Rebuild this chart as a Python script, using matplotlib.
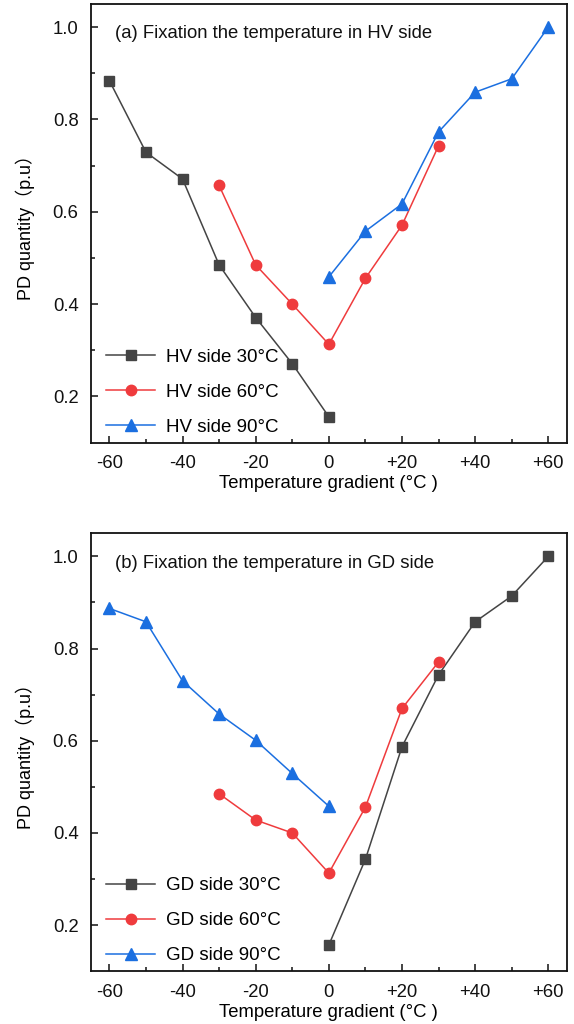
import matplotlib
matplotlib.use('Agg')
import matplotlib.pyplot as plt
from matplotlib.ticker import MultipleLocator, FixedLocator

plt.rcParams['font.family'] = ['Liberation Sans', 'Noto Sans CJK SC', 'DejaVu Sans']

# 数据 (a) 固定 HV 侧温度
x_hv30 = [-60, -50, -40, -30, -20, -10, 0]
y_hv30 = [0.884, 0.729, 0.671, 0.485, 0.371, 0.271, 0.156]
x_hv60 = [-30, -20, -10, 0, 10, 20, 30]
y_hv60 = [0.657, 0.485, 0.400, 0.313, 0.456, 0.571, 0.743]
x_hv90 = [0, 10, 20, 30, 40, 50, 60]
y_hv90 = [0.459, 0.558, 0.617, 0.773, 0.859, 0.888, 1.000]

# 数据 (b) 固定 GD 侧温度
x_gd30 = [0, 10, 20, 30, 40, 50, 60]
y_gd30 = [0.157, 0.343, 0.587, 0.743, 0.858, 0.914, 1.000]
x_gd60 = [-30, -20, -10, 0, 10, 20, 30]
y_gd60 = [0.485, 0.428, 0.400, 0.313, 0.456, 0.670, 0.771]
x_gd90 = [-60, -50, -40, -30, -20, -10, 0]
y_gd90 = [0.887, 0.858, 0.730, 0.658, 0.601, 0.529, 0.458]

xticks = [-60, -40, -20, 0, 20, 40, 60]
xticklabels = ['-60', '-40', '-20', '0', '+20', '+40', '+60']

gray = '#444444'
red = '#ef3b3d'
blue = '#1b6fe0'

fig = plt.figure(figsize=(5.74, 10.24), dpi=100)
ax1 = fig.add_axes([0.1587, 0.5677, 0.8284, 0.4284])
ax2 = fig.add_axes([0.1587, 0.0515, 0.8284, 0.4277])


def draw(ax, series, tag, side):
    for xs, ys, c, m, ms, lab in series:
        ax.plot(xs, ys, color=c, marker=m, markersize=ms, linewidth=1.1, label=lab)
    ax.set_xlim(-65, 65)
    ax.set_ylim(0.1, 1.05)
    ax.xaxis.set_major_locator(FixedLocator(xticks))
    ax.set_xticklabels(xticklabels)
    ax.xaxis.set_minor_locator(MultipleLocator(10))
    ax.yaxis.set_major_locator(FixedLocator([0.2, 0.4, 0.6, 0.8, 1.0]))
    ax.yaxis.set_minor_locator(FixedLocator([0.3, 0.5, 0.7, 0.9]))
    ax.tick_params(which='both', direction='in', labelsize=13.3, colors='#111111', width=1.1)
    ax.tick_params(which='major', length=5)
    ax.tick_params(which='minor', length=3)
    ax.tick_params(axis='y', pad=9)
    ax.tick_params(axis='x', pad=9)
    for s in ax.spines.values():
        s.set_linewidth(1.3)
        s.set_color('#111111')
    ax.set_xlabel('Temperature gradient (°C )', fontsize=13.3, labelpad=2)
    ax.set_ylabel('PD quantity（p.u）', fontsize=13, labelpad=13)
    ax.text(0.05, 0.932, tag + ' Fixation the temperature in ' + side + ' side',
            transform=ax.transAxes, fontsize=13.3, va='center', color='#111111')
    ax.legend(loc='lower left', bbox_to_anchor=(0.032, 0.016), frameon=False, fontsize=13.5,
              borderpad=0, borderaxespad=0, handlelength=2.6, handletextpad=0.6,
              labelspacing=0.95)


draw(ax1, [(x_hv30, y_hv30, gray, 's', 6.5, 'HV side 30°C'),
           (x_hv60, y_hv60, red, 'o', 7.5, 'HV side 60°C'),
           (x_hv90, y_hv90, blue, '^', 8.5, 'HV side 90°C')], '(a)', 'HV')
draw(ax2, [(x_gd30, y_gd30, gray, 's', 6.5, 'GD side 30°C'),
           (x_gd60, y_gd60, red, 'o', 7.5, 'GD side 60°C'),
           (x_gd90, y_gd90, blue, '^', 8.5, 'GD side 90°C')], '(b)', 'GD')

fig.savefig('out.png', dpi=100)
